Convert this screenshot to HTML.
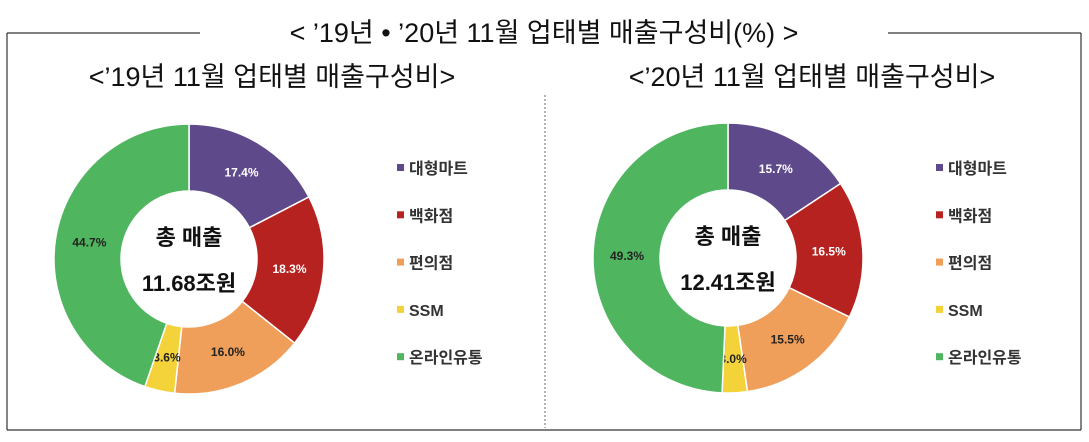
<!DOCTYPE html>
<html><head><meta charset="utf-8">
<style>
body{margin:0;background:#fff;width:1089px;height:437px;overflow:hidden;font-family:"Liberation Sans","Noto Sans CJK KR",sans-serif}
svg text{font-family:"Liberation Sans","Noto Sans CJK KR",sans-serif}
</style></head><body>
<svg id="c" width="1089" height="437">
<g>
<line x1="7" y1="33" x2="200" y2="33" stroke="#333" stroke-width="1.2"/>
<line x1="888" y1="33" x2="1081" y2="33" stroke="#333" stroke-width="1.2"/>
<line x1="7" y1="33" x2="7" y2="430" stroke="#333" stroke-width="1.2"/>
<line x1="1081" y1="33" x2="1081" y2="430" stroke="#333" stroke-width="1.2"/>
<line x1="7" y1="430" x2="1081" y2="430" stroke="#333" stroke-width="1.2"/>
<line x1="545" y1="95" x2="545" y2="428" stroke="#666" stroke-width="1" stroke-dasharray="2,2"/>
</g>
<text x="544" y="42" text-anchor="middle" font-size="27" fill="#111">&lt; ’19년 • ’20년 11월 업태별 매출구성비(%) &gt;</text>
<text x="272" y="86" text-anchor="middle" font-size="27" fill="#111">&lt;’19년 11월 업태별 매출구성비&gt;</text>
<text x="812" y="86" text-anchor="middle" font-size="27" fill="#111">&lt;’20년 11월 업태별 매출구성비&gt;</text>
</svg>
<script>
const categories=["대형마트","백화점","편의점","SSM","온라인유통"];
const colors=["#5e4a8a","#b5221f","#ef9f5a","#f4d23a","#4fb55f"];
const values2019=[17.4,18.3,16.0,3.6,44.7];
const values2020=[15.7,16.5,15.5,3.0,49.3];
const totals=["11.68조원","12.41조원"];
const svg=document.getElementById('c');
const NS="http://www.w3.org/2000/svg";
function mk(t,a){const e=document.createElementNS(NS,t);for(const k in a)e.setAttribute(k,a[k]);svg.appendChild(e);return e;}
function pt(cx,cy,r,a){return [cx+r*Math.sin(a),cy-r*Math.cos(a)];}
function donut(vals,cx,cy,total,lx,key){
 const R=135,r=68;const sum=vals.reduce((a,b)=>a+b,0);let a0=0;
 vals.forEach((v,i)=>{const a1=a0+v/sum*2*Math.PI;const lg=(a1-a0)>Math.PI?1:0;
  const p1=pt(cx,cy,R,a0),p2=pt(cx,cy,R,a1),p3=pt(cx,cy,r,a1),p4=pt(cx,cy,r,a0);
  const p=mk('path',{d:`M${p1}A${R},${R} 0 ${lg} 1 ${p2}L${p3}A${r},${r} 0 ${lg} 0 ${p4}Z`,fill:colors[i],stroke:'#fff','stroke-width':1.5});
  
  
  const m=(a0+a1)/2;const lp=pt(cx,cy,(i==3)?101:101,m);
  const t=mk('text',{x:lp[0],y:lp[1]+4,'text-anchor':'middle','font-size':12,'font-weight':'bold',fill:i<2?'#fff':'#222'});
  t.textContent=v.toFixed(1)+'%';
  
  
  a0=a1;});
 const t1=mk('text',{x:cx,y:cy-14,'text-anchor':'middle','font-size':22,'font-weight':'bold',fill:'#111'});t1.textContent='총 매출';
 
 
 const t2=mk('text',{x:cx,y:cy+32,'text-anchor':'middle','font-size':22,'font-weight':'bold',fill:'#111'});t2.textContent=total;
 
 
 categories.forEach((c,i)=>{const y=168+i*47.3;
  const s=mk('rect',{x:lx,y:y-4,width:7,height:7,fill:colors[i]});
  
  
  const t=mk('text',{x:lx+12,y:y+6,'font-size':16,'font-weight':'bold',fill:'#333'});t.textContent=c;
  
  });
}
donut(values2019,189,259,totals[0],397,'donut-2019');
donut(values2020,728,258,totals[1],936,'donut-2020');
</script>
</body></html>
